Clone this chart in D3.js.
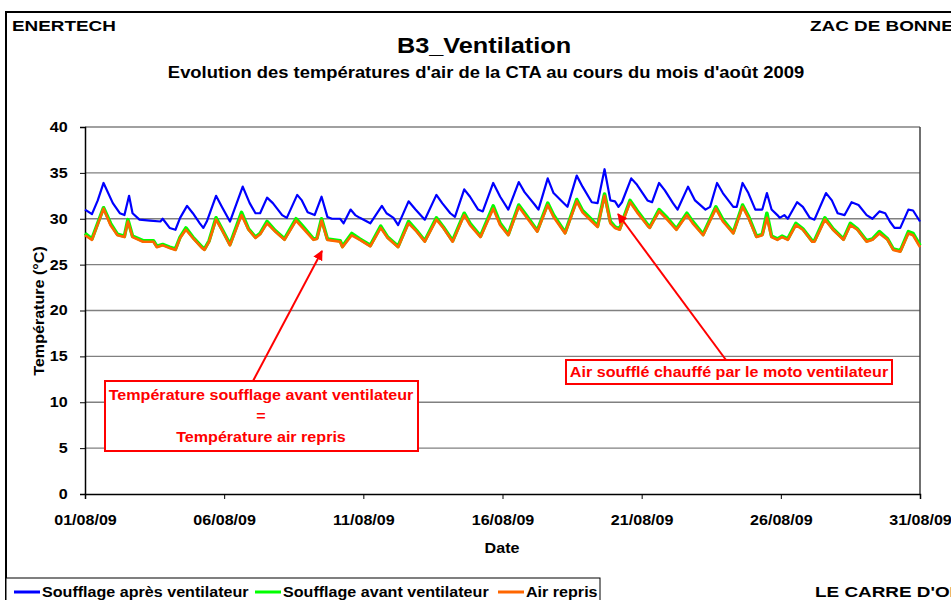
<!DOCTYPE html>
<html>
<head>
<meta charset="utf-8">
<script src="https://cdnjs.cloudflare.com/ajax/libs/d3/7.8.5/d3.min.js"></script>
<style>
body { margin:0; background:#fff; overflow:hidden; }
svg text { font-family: Arial, 'Liberation Sans', sans-serif; font-weight: bold; }
</style>
</head>
<body>
<div id="chart"></div>
<script>

// hours since 01/08/09 00:00, temperature (°C)
var apres_hours = [0,6,11,16,24,30,34,38,41,47,56,65,67,73,78,82,88,93,99,102,105,113,118,125,136,142,147,151,157,162,170,174,183,187,192,198,204,209,213,220,223,229,233,237,246,256,260,266,270,279,285,293,303,308,315,319,327,332,339,343,352,358,365,374,379,388,391,399,404,412,416,424,429,437,442,448,453,457,460,463,471,476,485,489,495,500,507,511,520,526,535,539,545,550,559,562,567,572,578,584,588,592,597,599,603,606,614,619,625,629,639,644,649,655,661,667,674,679,685,690,694,698,703,710,714,720];
var apres_temp = [31.0,30.5,32.0,33.9,31.7,30.6,30.4,32.5,30.6,29.9,29.8,29.7,30.0,29.0,28.8,30.1,31.4,30.6,29.5,29.0,29.7,32.5,31.3,29.7,33.5,31.7,30.6,30.6,32.3,31.7,30.4,30.1,32.6,32.0,30.7,30.4,32.4,30.2,30.0,30.0,29.5,31.0,30.4,30.1,29.5,31.4,30.6,30.1,29.3,31.9,31.0,29.9,32.6,31.7,30.6,30.2,33.2,32.4,31.0,30.8,33.9,32.4,31.0,34.0,32.9,31.5,31.0,34.4,32.8,31.8,31.3,34.7,33.5,31.8,31.7,35.4,32.0,31.9,31.3,31.8,34.4,33.7,32.0,31.8,33.9,33.1,31.7,31.0,33.5,32.0,31.0,31.3,33.9,32.8,31.3,31.3,33.9,32.8,31.0,31.0,32.8,31.0,30.4,30.1,30.4,30.0,31.8,31.3,30.1,29.9,32.8,32.0,30.6,30.4,31.8,31.5,30.4,30.0,30.8,30.6,29.7,29.0,29.0,31.0,30.9,29.7];

var avant_hours = [0,6,16,22,28,34,37,41,50,59,62,67,73,78,82,87,93,101,103,107,113,118,125,135,141,147,151,157,164,172,182,187,197,200,204,209,220,222,230,237,246,255,261,270,279,286,293,303,309,317,327,332,341,352,358,365,374,381,390,399,404,414,424,429,437,442,448,453,457,461,470,476,486,487,495,502,510,519,524,533,544,550,559,567,572,579,584,588,592,597,601,606,613,619,627,629,638,645,654,660,666,674,679,685,692,697,703,710,714,720];
var avant_temp = [28.4,27.8,31.2,29.5,28.3,28.1,29.9,28.1,27.6,27.6,27.0,27.2,26.9,26.7,28.0,29.0,28.0,26.9,26.7,27.6,30.1,28.9,27.2,30.7,28.9,28.0,28.4,29.7,28.7,27.8,30.0,29.3,27.8,27.9,30.0,27.8,27.6,27.0,28.4,27.8,27.1,29.2,28.0,27.0,29.7,28.7,27.6,30.1,29.1,27.6,30.6,29.5,28.1,31.4,29.5,28.3,31.5,30.3,28.7,31.7,30.4,28.5,32.1,30.9,29.9,29.2,32.7,29.7,29.1,28.9,32.0,30.9,29.2,29.1,31.0,30.1,28.9,30.6,29.7,28.3,31.3,29.9,28.5,31.5,30.3,28.1,28.3,30.6,28.1,27.8,28.1,27.8,29.5,28.9,27.6,27.6,30.1,28.9,27.8,29.5,28.9,27.6,27.8,28.6,27.8,26.7,26.5,28.6,28.4,27.1];

var repris_hours = avant_hours;
var repris_temp = [28.2,27.7,31.1,29.3,28.2,28.0,29.7,28.0,27.5,27.5,26.9,27.1,26.8,26.6,27.9,28.8,27.9,26.8,26.6,27.5,29.9,28.8,27.1,30.4,28.8,27.9,28.3,29.5,28.6,27.7,29.8,29.1,27.7,27.8,29.8,27.7,27.5,26.9,28.2,27.7,27.0,29.0,27.9,26.9,29.5,28.6,27.5,29.9,29.0,27.5,30.4,29.3,28.0,31.1,29.3,28.2,31.3,30.1,28.6,31.5,30.2,28.4,31.9,30.7,29.7,29.1,32.5,29.5,29.0,28.8,31.8,30.7,29.1,29.0,30.8,29.9,28.8,30.4,29.5,28.2,31.1,29.7,28.4,31.3,30.1,28.0,28.2,30.1,28.0,27.7,28.0,27.7,29.3,28.8,27.5,27.5,29.9,28.8,27.7,29.3,28.8,27.5,27.7,28.4,27.7,26.6,26.4,28.4,28.2,26.9];

var y_ticks = [0,5,10,15,20,25,30,35,40];
var series_names = ['Soufflage après ventilateur','Soufflage avant ventilateur','Air repris'];
var series_colors = ['#0000ff','#00ff00','#ff6600'];

var SX = 1.15; // the original text is a bit wider than plain Arial
var width = 951, height = 600;
var plotL = 85, plotR = 920, plotT = 127, plotB = 494;
var start = new Date(2009, 7, 1);

var svg = d3.select('#chart').append('svg')
    .attr('width', width)
    .attr('height', height);

function txt(x, y, str, size, anchor, fill, rot, sx) {
    var tr = 'translate(' + x + ',' + y + ')' + (rot ? ' rotate(' + rot + ')' : '') + ' scale(' + (sx || SX) + ',1)';
    return svg.append('text')
        .attr('transform', tr)
        .attr('text-anchor', anchor || 'start')
        .attr('font-size', size)
        .attr('fill', fill || 'black')
        .text(str);
}

// outer frame
svg.append('rect')
    .attr('x', 6).attr('y', 12)
    .attr('width', 1000).attr('height', 700)
    .attr('fill', 'none')
    .attr('stroke', 'black')
    .attr('stroke-width', 2);

txt(12, 31, 'ENERTECH', 15, 'start', 'black', 0, 1.26);
txt(810, 31, 'ZAC DE BONNE', 15, 'start', 'black', 0, 1.26);
txt(484, 53, 'B3_Ventilation', 22, 'middle');
txt(486, 78, "Evolution des températures d'air de la CTA au cours du mois d'août 2009", 16, 'middle');

var x = d3.scaleTime()
    .domain([start, new Date(2009, 7, 31)])
    .range([plotL, plotR]);
var y = d3.scaleLinear()
    .domain([0, 40])
    .range([plotB, plotT]);

// grid
svg.append('g')
    .selectAll('line')
    .data(y_ticks.filter(function(d){ return d > 0; }))
    .enter()
    .append('line')
    .attr('x1', plotL).attr('x2', plotR)
    .attr('y1', function(d){ return y(d); })
    .attr('y2', function(d){ return y(d); })
    .attr('stroke', '#808080')
    .attr('stroke-width', 1.3);

svg.append('line')
    .attr('x1', plotR).attr('x2', plotR)
    .attr('y1', plotT).attr('y2', plotB)
    .attr('stroke', '#404040')
    .attr('stroke-width', 1.5);

var xAxis = svg.append('g')
    .attr('transform', 'translate(0,' + plotB + ')')
    .call(d3.axisBottom(x)
        .ticks(d3.timeDay.filter(function(d){ return (d.getDate() - 1) % 5 === 0; }))
        .tickFormat(d3.timeFormat('%d/%m/%y'))
        .tickSizeOuter(0)
        .tickSize(5)
        .tickPadding(16));

var yAxis = svg.append('g')
    .attr('transform', 'translate(' + plotL + ',0)')
    .call(d3.axisLeft(y)
        .tickValues(y_ticks)
        .tickSizeOuter(0)
        .tickSize(5)
        .tickPadding(10));

[xAxis, yAxis].forEach(function(a){
    a.select('.domain').attr('stroke', 'black').attr('stroke-width', 1.5);
    a.selectAll('.tick line').attr('stroke', 'black');
    a.selectAll('.tick text')
        .attr('font-size', 14)
        .attr('font-family', 'Arial, Liberation Sans, sans-serif')
        .attr('font-weight', 'bold')
        .attr('fill', 'black')
        .attr('transform', 'scale(' + SX + ',1)');
});

txt(502, 553, 'Date', 14, 'middle');
txt(44, 311, 'Température (°C)', 14, 'middle', 'black', -90);

// series
function toPoints(hours, temps) {
    return hours.map(function(h, i){ return {date: d3.timeHour.offset(start, h), v: temps[i]}; });
}
var line = d3.line()
    .x(function(d){ return x(d.date); })
    .y(function(d){ return y(d.v); });

var series = [
    {pts: toPoints(apres_hours, apres_temp), color: series_colors[0], w: 2.2},
    {pts: toPoints(avant_hours, avant_temp), color: series_colors[1], w: 3.6},
    {pts: toPoints(repris_hours, repris_temp), color: series_colors[2], w: 2.6}
];
// green under orange so its edge shows
[series[1], series[2], series[0]].forEach(function(s){
    svg.append('path')
        .datum(s.pts)
        .attr('d', line)
        .attr('fill', 'none')
        .attr('stroke', s.color)
        .attr('stroke-width', s.w)
        .attr('stroke-linejoin', 'round');
});

// annotations
svg.append('defs').append('marker')
    .attr('id', 'head')
    .attr('viewBox', '0 0 10 10')
    .attr('refX', 9).attr('refY', 5)
    .attr('markerWidth', 5).attr('markerHeight', 5)
    .attr('orient', 'auto')
    .append('path')
    .attr('d', 'M0,0 L10,5 L0,10 z')
    .attr('fill', '#ff0000');

svg.append('line')
    .attr('x1', 253).attr('y1', 381)
    .attr('x2', 322).attr('y2', 251)
    .attr('stroke', '#ff0000').attr('stroke-width', 2)
    .attr('marker-end', 'url(#head)');
svg.append('line')
    .attr('x1', 726).attr('y1', 360)
    .attr('x2', 618).attr('y2', 214)
    .attr('stroke', '#ff0000').attr('stroke-width', 2)
    .attr('marker-end', 'url(#head)');

svg.append('rect')
    .attr('x', 105).attr('y', 381)
    .attr('width', 313).attr('height', 70)
    .attr('fill', 'white')
    .attr('stroke', '#ff0000').attr('stroke-width', 2);
txt(261, 400, 'Température soufflage avant ventilateur', 14, 'middle', '#ff0000');
txt(261, 421, '=', 14, 'middle', '#ff0000');
txt(261, 442, 'Température air repris', 14, 'middle', '#ff0000');

svg.append('rect')
    .attr('x', 566).attr('y', 360)
    .attr('width', 326).attr('height', 24)
    .attr('fill', 'white')
    .attr('stroke', '#ff0000').attr('stroke-width', 2);
txt(729, 377, 'Air soufflé chauffé par le moto ventilateur', 14, 'middle', '#ff0000');

// legend
svg.append('rect')
    .attr('x', 6).attr('y', 578)
    .attr('width', 594).attr('height', 40)
    .attr('fill', 'white')
    .attr('stroke', 'black').attr('stroke-width', 1);
var legend_x = [14, 255, 498];
series_names.forEach(function(name, i){
    svg.append('line')
        .attr('x1', legend_x[i]).attr('x2', legend_x[i] + 26)
        .attr('y1', 592).attr('y2', 592)
        .attr('stroke', series_colors[i])
        .attr('stroke-width', 3);
    txt(legend_x[i] + 28, 597, name, 14);
});

txt(815, 597, "LE CARRE D'OR", 15, 'start', 'black', 0, 1.26);

</script>
</body>
</html>
